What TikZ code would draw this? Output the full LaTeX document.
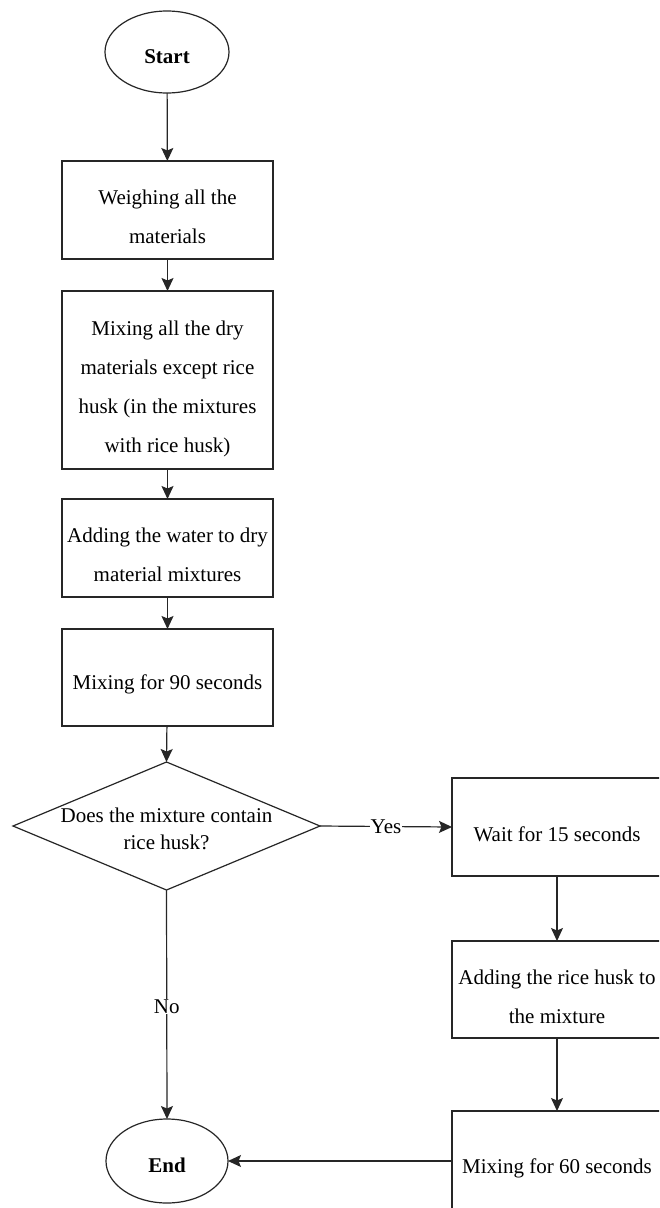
\documentclass[tikz,border=0pt]{standalone}
\usepackage{fontspec}
\setmainfont{Liberation Serif}
\usetikzlibrary{shapes.geometric,arrows.meta}
\begin{document}
\begin{tikzpicture}[x=1pt,y=-1pt,
  every node/.style={inner sep=0pt, outer sep=0pt},
  linecol/.style={line width=1.2pt, draw=black!85},
  stepbox/.style={linecol, rectangle, minimum width=211pt},
  steptext/.style={align=center, yshift=-7pt, font=\fontsize{21}{39}\selectfont},
  termnode/.style={linecol, ellipse},
  termtext/.style={yshift=-5pt, font=\fontsize{21}{25}\selectfont\bfseries},
  decnode/.style={linecol, diamond, minimum width=307pt, minimum height=128pt},
  conn/.style={linecol, -{Stealth[length=13pt,width=12pt,inset=2.5pt]}},
  lbl/.style={fill=white, inner sep=1pt, font=\fontsize{21}{25}\selectfont}
]
\clip (0,0) rectangle (659,1208);
\fill[white] (0,0) rectangle (659,1208);

\node[termnode, minimum width=124pt, minimum height=82pt] (start) at (167,52) {};
\node[termtext] (starttext) at (start) {Start};
\node[stepbox, minimum height=98pt] (b1) at (167.5,210) {};
\node[steptext] (b1text) at (b1) {Weighing all the\\materials};
\node[stepbox, minimum height=178pt] (b2) at (167.5,380) {};
\node[steptext, yshift=-2pt] (b2text) at (b2) {Mixing all the dry\\materials except rice\\husk (in the mixtures\\with rice husk)};
\node[stepbox, minimum height=98pt] (b3) at (167.5,548) {};
\node[steptext] (b3text) at (b3) {Adding the water to dry\\material mixtures};
\node[stepbox, minimum height=97pt] (b4) at (167.5,677.5) {};
\node[steptext] (b4text) at (b4) {Mixing for 90 seconds};
\node[decnode] (dec) at (166.5,826) {};
\node[align=center, font=\fontsize{21}{27}\selectfont] (dectext) at (166.5,829) {Does the mixture contain\\rice husk?};
\node[stepbox, minimum width=210pt, minimum height=98pt] (r1) at (557,827) {};
\node[steptext] (r1text) at (r1) {Wait for 15 seconds};
\node[stepbox, minimum width=210pt, minimum height=97pt] (r2) at (557,989.5) {};
\node[steptext] (r2text) at (r2) {Adding the rice husk to\\the mixture};
\node[stepbox, minimum width=210pt, minimum height=100pt] (r3) at (557,1161) {};
\node[steptext] (r3text) at (r3) {Mixing for 60 seconds};
\node[termnode, minimum width=122pt, minimum height=84pt] (end) at (167,1161) {};
\node[termtext, yshift=1pt] (endtext) at (end) {End};

\draw[conn] (start) -- (b1);
\draw[conn] (b1) -- (b2);
\draw[conn] (b2) -- (b3);
\draw[conn] (b3) -- (b4);
\draw[conn] (b4) -- (dec.north);
\draw[conn] (dec.east) -- node[lbl] {Yes} (r1.west);
\draw[conn] (dec.south) -- node[lbl, yshift=-2pt] {No} (end.north);
\draw[conn] (r1) -- (r2);
\draw[conn] (r2) -- (r3);
\draw[conn] (r3.west) -- (end.east);
\end{tikzpicture}
\end{document}
